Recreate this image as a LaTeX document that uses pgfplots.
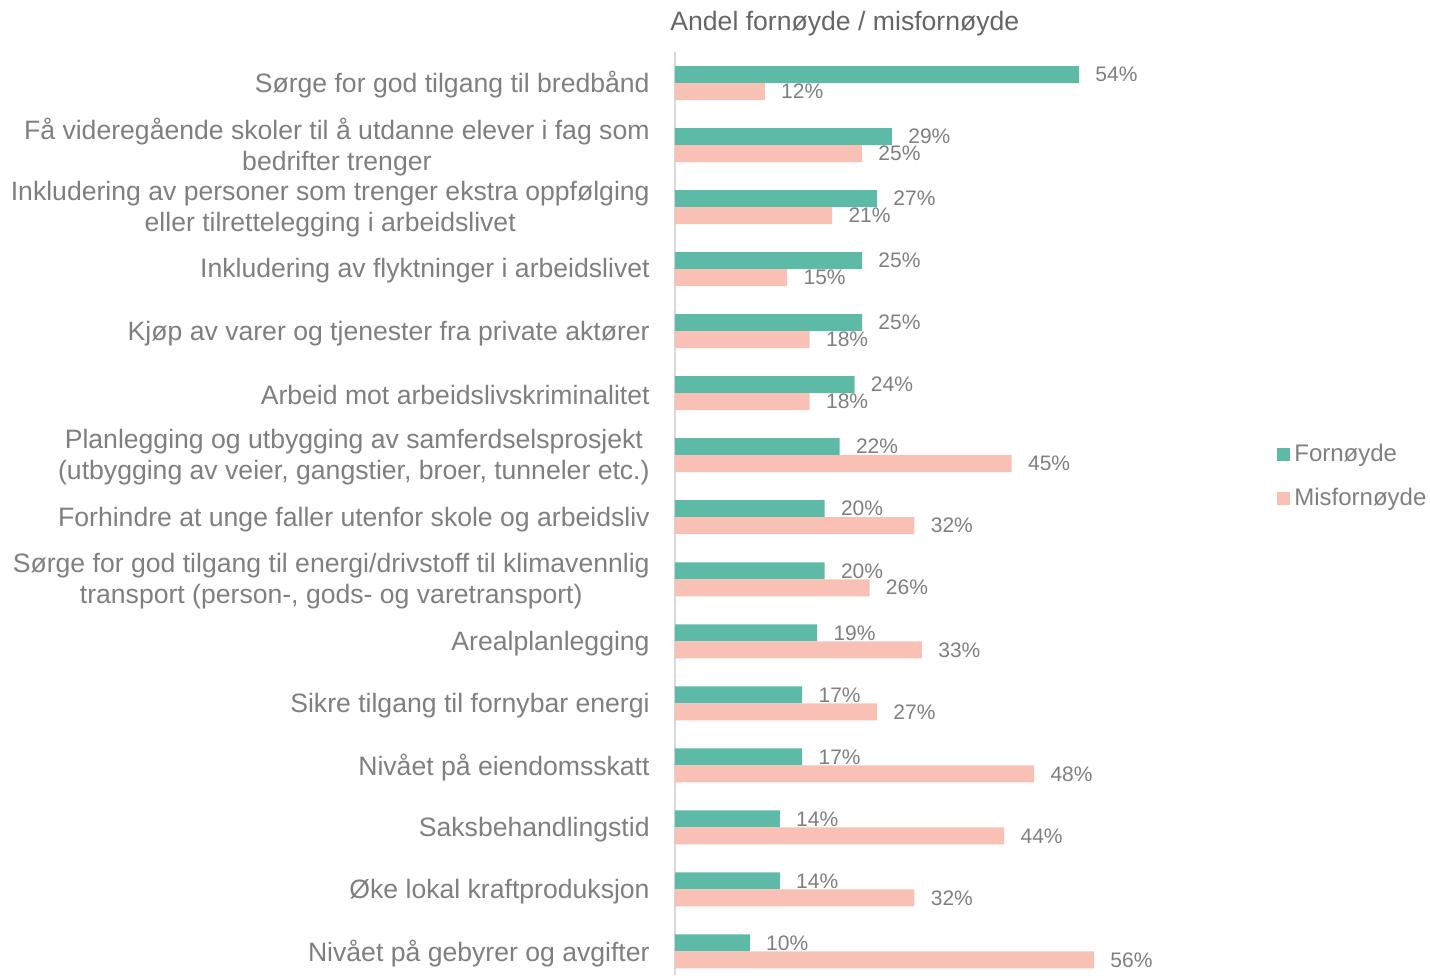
\documentclass[border=0pt]{standalone}
\usepackage{fontspec}
\setmainfont{Liberation Sans}
\usepackage{pgfplots}
\pgfplotsset{compat=1.18}
\definecolor{gronn}{HTML}{5DBAA7}
\definecolor{rosa}{HTML}{F9C1B5}
\definecolor{tekst}{HTML}{7F7F7F}
\definecolor{tittel}{HTML}{666666}
\definecolor{akse}{HTML}{D9D9D9}

\begin{document}
\begin{tikzpicture}
\path[use as bounding box] (0,0) rectangle (715pt,-487.5pt);
\node[anchor=west, inner sep=0pt, text=tittel, font=\fontsize{13.3}{15}\selectfont]
  at (335pt,-12pt) {Andel fornøyde / misfornøyde};
\begin{axis}[
  at={(337.5pt,-487.5pt)}, anchor=south west,
  scale only axis, width=217pt, height=461.5pt,
  xbar, bar width=0.274,
  xmin=0, xmax=58,
  ymin=-0.5, ymax=14.38, y dir=reverse,
  axis x line=none,
  axis y line*=left,
  y axis line style={draw=akse, line width=1pt, -},
  ytick={0,...,14},
  major tick length=0pt,
  yticklabels={
    {Sørge for god tilgang til bredbånd},
    {Få videregående skoler til å utdanne elever i fag som\\bedrifter trenger},
    {Inkludering av personer som trenger ekstra oppfølging\\eller tilrettelegging i arbeidslivet},
    {Inkludering av flyktninger i arbeidslivet},
    {Kjøp av varer og tjenester fra private aktører},
    {Arbeid mot arbeidslivskriminalitet},
    {Planlegging og utbygging av samferdselsprosjekt\\(utbygging av veier, gangstier, broer, tunneler etc.)},
    {Forhindre at unge faller utenfor skole og arbeidsliv},
    {Sørge for god tilgang til energi/drivstoff til klimavennlig\\transport (person-, gods- og varetransport)},
    {Arealplanlegging},
    {Sikre tilgang til fornybar energi},
    {Nivået på eiendomsskatt},
    {Saksbehandlingstid},
    {Øke lokal kraftproduksjon},
    {Nivået på gebyrer og avgifter}},
  yticklabel style={align=center, font=\fontsize{13.3}{15.5}\selectfont,
    text=tekst, inner sep=0pt, xshift=-12.5pt, yshift=-1pt},
  point meta=x,
  nodes near coords={\pgfmathprintnumber[assume math mode=true]{\pgfplotspointmeta}\%},
  nodes near coords style={font=\fontsize{10.5}{12}\selectfont, text=tekst,
    inner sep=0pt, xshift=8pt},
  legend style={at={(1.387,0.54)}, anchor=west, draw=none, fill=none,
    font=\fontsize{12}{14}\selectfont, text=tekst, inner sep=0pt, row sep=8pt},
  legend cell align=left,
  legend image code/.code={\fill[#1] (0pt,-3.25pt) rectangle (6.5pt,3.25pt);},
]
\addplot[fill=gronn, draw=none, bar shift=-0.137] coordinates {
  (54,0) (29,1) (27,2) (25,3) (25,4) (24,5) (22,6) (20,7)
  (20,8) (19,9) (17,10) (17,11) (14,12) (14,13) (10,14)};
\addplot[fill=rosa, draw=none, bar shift=0.137] coordinates {
  (12,0) (25,1) (21,2) (15,3) (18,4) (18,5) (45,6) (32,7)
  (26,8) (33,9) (27,10) (48,11) (44,12) (32,13) (56,14)};
\legend{Fornøyde, Misfornøyde}
\end{axis}
\end{tikzpicture}
\end{document}
